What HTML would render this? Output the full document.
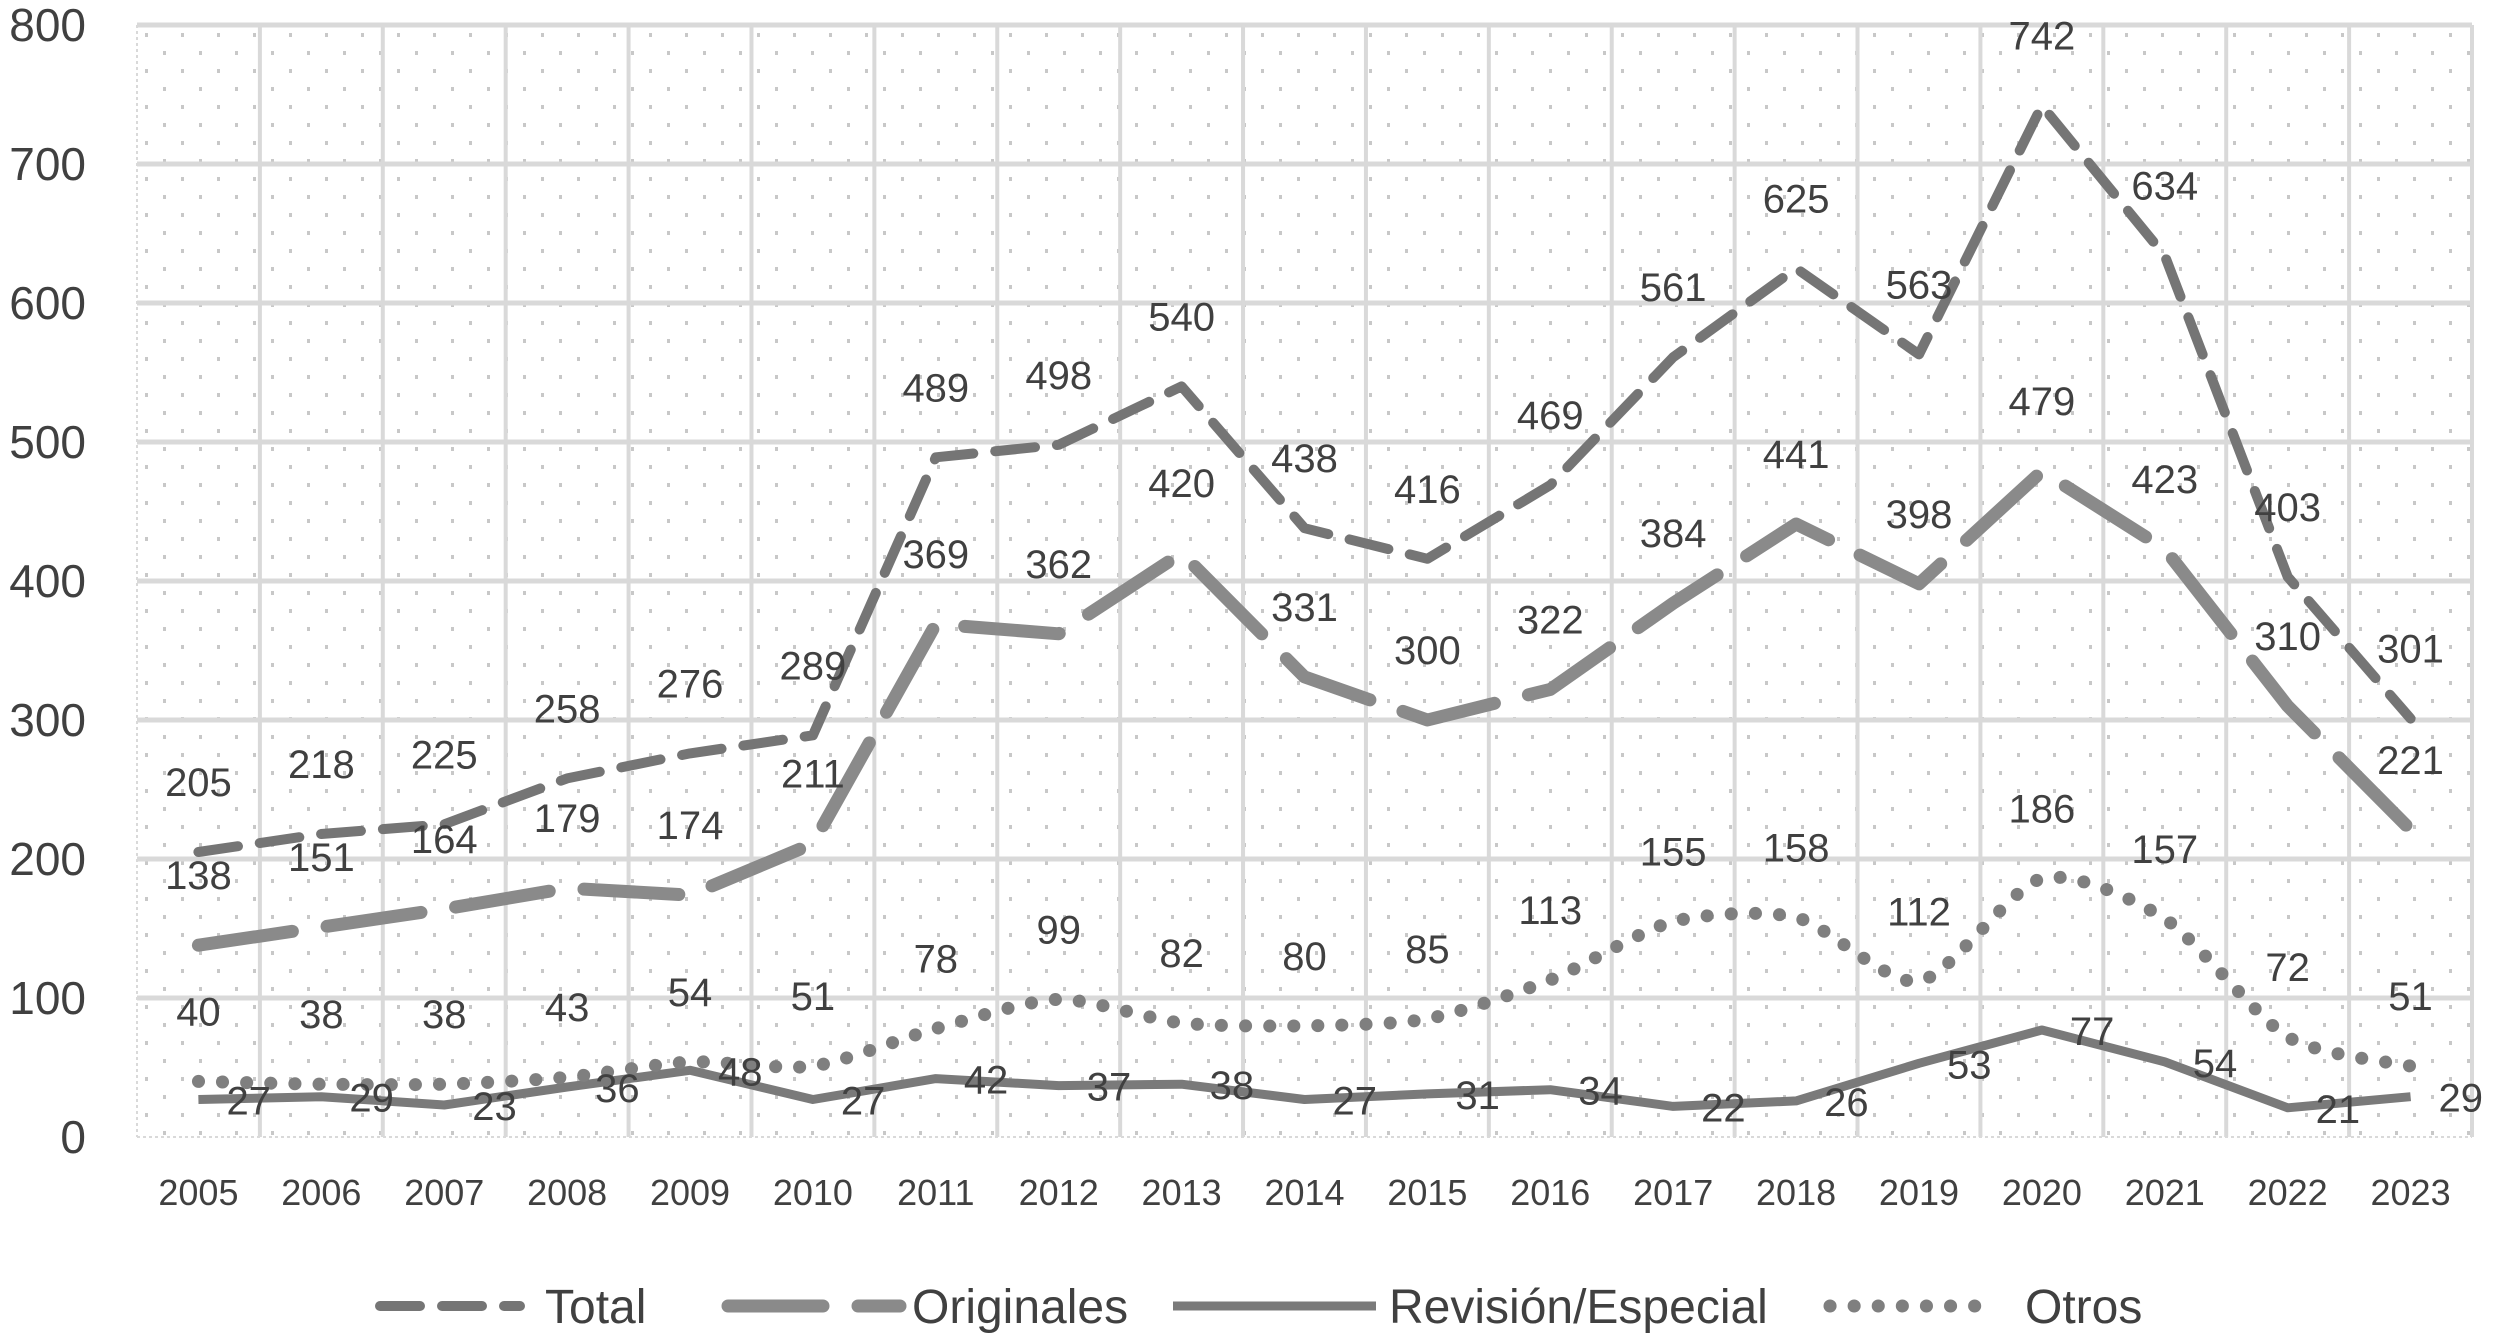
<!DOCTYPE html>
<html><head><meta charset="utf-8"><style>
html,body{margin:0;padding:0;background:#fff;}
svg{display:block;font-family:"Liberation Sans",sans-serif;}
</style></head><body>
<svg id="chart" width="2508" height="1337" viewBox="0 0 2508 1337">
<defs>
<pattern id="dots" width="36" height="36" patternUnits="userSpaceOnUse" x="137" y="25">
<rect x="8" y="8" width="3" height="4" fill="#c8c8c8"/><rect x="26" y="26" width="3" height="4" fill="#c8c8c8"/>
</pattern>
</defs>
<g id="plot"></g>
</svg>
<script>
const categories=["2005","2006","2007","2008","2009","2010","2011","2012","2013","2014","2015","2016","2017","2018","2019","2020","2021","2022","2023"];
const totalVals=[205,218,225,258,276,289,489,498,540,438,416,469,561,625,563,742,634,403,301];
const originalesVals=[138,151,164,179,174,211,369,362,420,331,300,322,384,441,398,479,423,310,221];
const revisionVals=[27,29,23,36,48,27,42,37,38,27,31,34,22,26,53,77,54,21,29];
const otrosVals=[40,38,38,43,54,51,78,99,82,80,85,113,155,158,112,186,157,72,51];
const yTicks=[0,100,200,300,400,500,600,700,800];
const legendLabels=["Total","Originales","Revisión/Especial","Otros"];

const NS="http://www.w3.org/2000/svg";
const L=137,R=2472,T=25,B=1137,yMax=800;
const band=(R-L)/categories.length;
const x=i=>L+band*(i+0.5);
const y=v=>B-(v/yMax)*(B-T);
const g=document.getElementById('plot');
function mk(tag,attrs,parent){const e=document.createElementNS(NS,tag);for(const k in attrs)e.setAttribute(k,attrs[k]);(parent||g).appendChild(e);return e;}

const bg=mk('rect',{x:L,y:T,width:R-L,height:B-T,fill:'url(#dots)'});


yTicks.forEach(t=>{
  const ln=mk('line',{x1:L,x2:R,y1:y(t),y2:y(t),stroke:'#d9d9d9','stroke-width':t===0?2:5});
  if(t===0)ln.setAttribute('stroke-dasharray','3 3');
  
  
  const tx=mk('text',{x:86,y:y(t)+16,'text-anchor':'end','font-size':46,fill:'#404040'});
  tx.textContent=t;
  
  
});
for(let i=0;i<=categories.length;i++){
  const xx=L+band*i;
  const ln=mk('line',{x1:xx,x2:xx,y1:T,y2:B,stroke:'#d9d9d9','stroke-width':i===0?2:4});
  if(i===0)ln.setAttribute('stroke-dasharray','3 3');
  
  
}
categories.forEach((c,i)=>{
  const tx=mk('text',{x:x(i),y:1205,'text-anchor':'middle','font-size':36,fill:'#404040'});
  tx.textContent=c;
  
  
});

function straight(vals){return vals.map((v,i)=>(i?'L':'M')+x(i).toFixed(1)+' '+y(v).toFixed(1)).join(' ');}
function smooth(vals){
  const p=vals.map((v,i)=>[x(i),y(v)]);let d='M'+p[0][0]+' '+p[0][1];
  for(let i=0;i<p.length-1;i++){
    const p0=p[i-1]||p[i],p1=p[i],p2=p[i+1],p3=p[i+2]||p2;
    const c1=[p1[0]+(p2[0]-p0[0])/8,p1[1]+(p2[1]-p0[1])/8];
    const c2=[p2[0]-(p3[0]-p1[0])/8,p2[1]-(p3[1]-p1[1])/8];
    d+=' C'+c1.join(' ')+' '+c2.join(' ')+' '+p2.join(' ');
  }
  return d;
}
const series=[
  {name:'total',vals:totalVals,d:straight(totalVals),w:10,dash:'40 22',cap:'round',color:'#757575',lbl:'above'},
  {name:'originales',vals:originalesVals,d:straight(originalesVals),w:13,dash:'95 35',cap:'round',color:'#8a8a8a',lbl:'above'},
  {name:'revision-especial',vals:revisionVals,d:straight(revisionVals),w:9,dash:'',cap:'butt',color:'#7a7a7a',lbl:'right'},
  {name:'otros',vals:otrosVals,d:smooth(otrosVals),w:13,dash:'0.1 24',cap:'round',color:'#7f7f7f',lbl:'above'}
];
series.forEach(s=>{
  const p=mk('path',{d:s.d,fill:'none',stroke:s.color,'stroke-width':s.w,'stroke-linecap':s.cap,'stroke-linejoin':'round'});
  if(s.dash)p.setAttribute('stroke-dasharray',s.dash);
  
  
});
series.forEach(s=>{
  s.vals.forEach((v,i)=>{
    const tx=s.lbl==='above'
      ?mk('text',{x:x(i),y:y(v)-56,'text-anchor':'middle','font-size':40,fill:'#404040'})
      :mk('text',{x:x(i)+28,y:y(v)+15,'text-anchor':'start','font-size':40,fill:'#404040'});
    tx.textContent=v;
    
    
  });
});
// legend
const leg=[
  {x1:380,x2:520,tx:545,s:series[0],dash:'40 22'},
  {x1:728,x2:900,tx:912,s:series[1],dash:'95 35'},
  {x1:1173,x2:1376,tx:1389,s:series[2],dash:''},
  {x1:1830,x2:1975,tx:2025,s:series[3],dash:'0.1 24'}
];
leg.forEach((l,i)=>{
  const ln=mk('line',{x1:l.x1,x2:l.x2,y1:1306,y2:1306,stroke:l.s.color,'stroke-width':l.s.w,'stroke-linecap':l.s.cap});
  if(l.dash)ln.setAttribute('stroke-dasharray',l.dash);
  
  
  const tx=mk('text',{x:l.tx,y:1323,'font-size':48,fill:'#404040'});
  tx.textContent=legendLabels[i];
  
  
});
</script>
</body></html>
